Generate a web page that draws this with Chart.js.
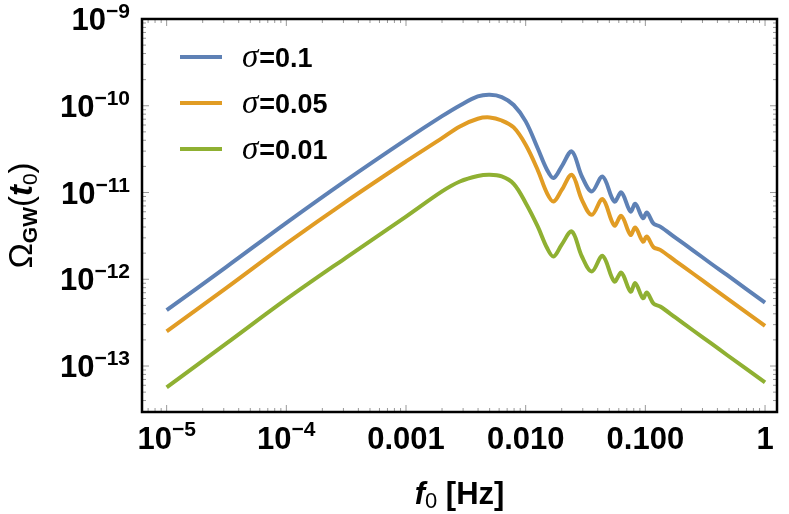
<!DOCTYPE html>
<html>
<head>
<meta charset="utf-8">
<script src="https://cdn.jsdelivr.net/npm/chart.js@4"></script>
<style>
  body { margin: 0; background: #fff; }
  canvas { display: block; }
</style>
</head>
<body>
<canvas id="gwChart" width="789" height="514"></canvas>
<script>
// frequencies in Hz
const freqs = [1e-5, 3.16e-5, 1e-4, 3.16e-4, 1e-3, 2.0e-3, 2.82e-3, 3.98e-3, 5.01e-3, 6.31e-3,
  7.94e-3, 0.01, 0.0126, 0.0151, 0.0171, 0.02, 0.0243, 0.0295, 0.0357, 0.0439,
  0.055, 0.063, 0.0752, 0.0824, 0.0955, 0.103, 0.117, 0.133, 0.178, 0.253, 0.355, 0.481, 1]

const omegaSigma01 = [4.40e-13, 1.39e-12, 4.47e-12, 1.38e-11, 4.07e-11, 7.59e-11, 1.01e-10, 1.28e-10, 1.34e-10, 1.26e-10,
  1.02e-10, 6.61e-11, 3.24e-11, 1.82e-11, 1.47e-11, 2.0e-11, 2.97e-11, 1.53e-11, 1.03e-11, 1.53e-11,
  7.87e-12, 1.0e-11, 6.04e-12, 7.41e-12, 5.07e-12, 5.88e-12, 4.37e-12, 4.05e-12, 3.02e-12, 2.13e-12, 1.51e-12, 1.12e-12, 5.38e-13]

const omegaSigma005 = [2.51e-13, 7.94e-13, 2.57e-12, 7.85e-12, 2.28e-11, 4.24e-11, 5.78e-11, 7.08e-11, 7.33e-11, 6.76e-11,
  5.62e-11, 3.55e-11, 1.82e-11, 9.77e-12, 7.87e-12, 1.07e-11, 1.60e-11, 8.24e-12, 5.53e-12, 8.39e-12,
  4.17e-12, 5.38e-12, 3.25e-12, 3.94e-12, 2.72e-12, 3.11e-12, 2.34e-12, 2.18e-12, 1.63e-12, 1.15e-12, 8.18e-13, 6.04e-13, 2.90e-13]

const omegaSigma001 = [5.69e-14, 1.82e-13, 5.89e-13, 1.78e-12, 5.28e-12, 1.03e-11, 1.34e-11, 1.55e-11, 1.60e-11, 1.53e-11,
  1.26e-11, 7.59e-12, 4.07e-12, 2.29e-12, 1.83e-12, 2.51e-12, 3.55e-12, 1.83e-12, 1.23e-12, 1.86e-12,
  9.42e-13, 1.19e-12, 7.21e-13, 9.02e-13, 6.05e-13, 7.03e-13, 5.25e-13, 4.85e-13, 3.63e-13, 2.55e-13, 1.82e-13, 1.34e-13, 6.46e-14]

const seriesNames = ["0.1", "0.05", "0.01"]
const seriesColors = ["#5E81B5", "#E19C24", "#8FB032"]

// tick labels
const xTickValues = [1e-5, 1e-4, 1e-3, 1e-2, 1e-1, 1]
const xTickLabels = [["10", "\u22125"], ["10", "\u22124"], ["0.001"], ["0.010"], ["0.100"], ["1"]]
const yTickValues = [1e-9, 1e-10, 1e-11, 1e-12, 1e-13]
const yTickLabels = ["\u22129", "\u221210", "\u221211", "\u221212", "\u221213"]

const toPoints = vals => vals.map((v, i) => ({ x: freqs[i], y: v }))
const allSeries = [omegaSigma01, omegaSigma005, omegaSigma001]

const BOLD = "'Liberation Sans', Arial, sans-serif"
const BIG = "bold 31px " + BOLD
const SUP = "bold 21px " + BOLD

const framePlugin = {
  id: "frame",
  afterDraw(chart) {
    const ctx = chart.ctx
    const { left, right, top, bottom } = chart.chartArea
    const xs = chart.scales.x
    const ys = chart.scales.y
    ctx.save()

    // minor and major ticks, all four sides, pointing inward
    ctx.strokeStyle = "#999"
    ctx.lineWidth = 1
    for (let d = -6; d <= 0; d++) {
      for (let m = 1; m <= 9; m++) {
        const v = m * Math.pow(10, d)
        const px = xs.getPixelForValue(v)
        if (px < left + 1 || px > right - 1) continue
        const len = m === 1 ? 7 : 4
        ctx.beginPath()
        ctx.moveTo(px, bottom); ctx.lineTo(px, bottom - len)
        ctx.moveTo(px, top); ctx.lineTo(px, top + len)
        ctx.stroke()
      }
    }
    for (let d = -14; d <= -9; d++) {
      for (let m = 1; m <= 9; m++) {
        const v = m * Math.pow(10, d)
        const py = ys.getPixelForValue(v)
        if (py < top + 1 || py > bottom - 1) continue
        const len = m === 1 ? 7 : 4
        ctx.beginPath()
        ctx.moveTo(left, py); ctx.lineTo(left + len, py)
        ctx.moveTo(right, py); ctx.lineTo(right - len, py)
        ctx.stroke()
      }
    }

    // frame
    ctx.strokeStyle = "#000"
    ctx.lineWidth = 2.5
    ctx.strokeRect(left, top, right - left, bottom - top)

    ctx.fillStyle = "#000"
    ctx.textBaseline = "alphabetic"
    // x tick labels
    xTickValues.forEach((v, i) => {
      const px = xs.getPixelForValue(v)
      const lab = xTickLabels[i]
      ctx.font = BIG
      const w0 = ctx.measureText(lab[0]).width
      let w1 = 0
      if (lab[1]) {
        ctx.font = SUP
        w1 = ctx.measureText(lab[1]).width
      }
      const x0 = px - (w0 + w1) / 2
      ctx.textAlign = "left"
      ctx.font = BIG
      ctx.fillText(lab[0], x0, 449)
      if (lab[1]) {
        ctx.font = SUP
        ctx.fillText(lab[1], x0 + w0, 436)
      }
    })

    // y tick labels, right aligned
    yTickValues.forEach((v, i) => {
      const py = ys.getPixelForValue(v)
      ctx.font = SUP
      const w1 = ctx.measureText(yTickLabels[i]).width
      ctx.font = BIG
      const w0 = ctx.measureText("10").width
      const xr = 130
      ctx.textAlign = "left"
      ctx.fillText("10", xr - w1 - w0, py + 11)
      ctx.font = SUP
      ctx.fillText(yTickLabels[i], xr - w1, py - 1)
    })

    // x axis title: f0 [Hz]
    const parts = [
      { t: "f", f: "italic bold 31px " + BOLD, dy: 0 },
      { t: "0", f: "22px " + BOLD, dy: 4 },
      { t: " [Hz]", f: "bold 31px " + BOLD, dy: 0 },
    ]
    drawRun(ctx, parts, (left + right) / 2, 504)

    // y axis title: Omega_GW(t0), rotated
    ctx.save()
    ctx.translate(32, (top + bottom) / 2)
    ctx.rotate(-Math.PI / 2)
    const yParts = [
      { t: "\u03A9", f: "34px " + BOLD, dy: 0 },
      { t: "GW", f: "bold 21px " + BOLD, dy: 5 },
      { t: "(", f: "33px " + BOLD, dy: 0 },
      { t: "t", f: "italic bold 33px " + BOLD, dy: 0 },
      { t: "0", f: "21px " + BOLD, dy: 5 },
      { t: ")", f: "33px " + BOLD, dy: 0 },
    ]
    drawRun(ctx, yParts, 0, 0)
    ctx.restore()

    // legend
    const legendY = [57, 103, 149]
    seriesNames.forEach((name, i) => {
      ctx.strokeStyle = seriesColors[i]
      ctx.lineWidth = 4
      ctx.beginPath()
      ctx.moveTo(180, legendY[i]); ctx.lineTo(222, legendY[i])
      ctx.stroke()
      ctx.textAlign = "left"
      ctx.font = "italic 33px 'Liberation Serif', serif"
      ctx.fillStyle = "#000"
      ctx.fillText("\u03C3", 242, legendY[i] + 10)
      const ws = ctx.measureText("\u03C3").width
      ctx.font = "bold 27px " + BOLD
      ctx.fillText("=" + name, 242 + ws + 1, legendY[i] + 10)
    })
    ctx.restore()
  },
}

function drawRun(ctx, parts, cx, baseline) {
  let total = 0
  parts.forEach(p => {
    ctx.font = p.f
    p.w = ctx.measureText(p.t).width
    total += p.w
  })
  let x = cx - total / 2
  ctx.textAlign = "left"
  ctx.textBaseline = "alphabetic"
  parts.forEach(p => {
    ctx.font = p.f
    ctx.fillText(p.t, x, baseline + p.dy)
    x += p.w
  })
}

new Chart(document.getElementById("gwChart"), {
  type: "line",
  data: {
    datasets: allSeries.map((vals, i) => ({
      label: "\u03C3=" + seriesNames[i],
      data: toPoints(vals),
      borderColor: seriesColors[i],
      borderWidth: 4,
      pointRadius: 0,
      fill: false,
      tension: 0.35,
    })),
  },
  options: {
    responsive: false,
    animation: false,
    devicePixelRatio: 1,
    layout: { padding: { left: 142, right: 12, top: 19, bottom: 102 } },
    plugins: { legend: { display: false }, tooltip: { enabled: false } },
    scales: {
      x: { type: "logarithmic", display: false, min: Math.pow(10, -5.206), max: Math.pow(10, 0.1) },
      y: { type: "logarithmic", display: false, min: Math.pow(10, -13.53), max: 1e-9 },
    },
  },
  plugins: [framePlugin],
})
</script>
</body>
</html>
